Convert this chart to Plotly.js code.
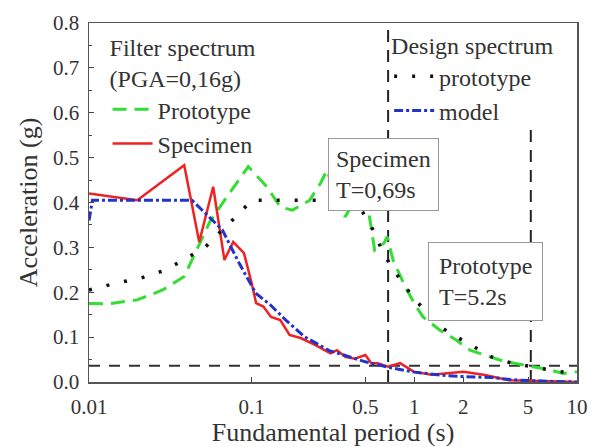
<!DOCTYPE html>
<html>
<head>
<meta charset="utf-8">
<script src="https://cdn.plot.ly/plotly-3.0.1.min.js"></script>
<style>html,body{margin:0;padding:0;background:#fff;}#chart{width:592px;height:447px;}</style>
</head>
<body>
<div id="chart"></div>
<script>
// Filter spectrum - prototype (green dashed)
var protoFilterT = [0.01, 0.013, 0.0198, 0.0284, 0.0385, 0.046, 0.0553, 0.0705, 0.0953, 0.124, 0.15, 0.178, 0.227, 0.265, 0.29, 0.32, 0.376, 0.43, 0.48, 0.53, 0.57, 0.65, 0.68, 0.74, 0.88, 1.0, 1.13, 1.43, 1.8, 2.2, 2.73, 3.35, 4.1, 5.5, 6.8, 8.2, 10];
var protoFilterA = [0.175, 0.174, 0.183, 0.205, 0.235, 0.294, 0.357, 0.413, 0.48, 0.435, 0.39, 0.383, 0.405, 0.443, 0.472, 0.428, 0.368, 0.405, 0.435, 0.368, 0.294, 0.309, 0.324, 0.272, 0.212, 0.175, 0.145, 0.116, 0.094, 0.071, 0.060, 0.049, 0.042, 0.034, 0.027, 0.019, 0.023];

// Filter spectrum - specimen (red solid)
var specFilterT = [0.01, 0.0198, 0.0385, 0.0476, 0.058, 0.068, 0.077, 0.0897, 0.1, 0.1065, 0.118, 0.1315, 0.15, 0.171, 0.2, 0.247, 0.305, 0.335, 0.376, 0.43, 0.5, 0.544, 0.595, 0.69, 0.817, 0.99, 1.27, 2, 2.67, 3.82, 10];
var specFilterA = [0.42, 0.405, 0.483, 0.312, 0.435, 0.272, 0.312, 0.287, 0.22, 0.176, 0.168, 0.145, 0.138, 0.105, 0.098, 0.082, 0.064, 0.071, 0.056, 0.052, 0.06, 0.042, 0.042, 0.034, 0.042, 0.023, 0.016, 0.023, 0.016, 0.004, 0.0];

// Design spectrum - prototype (black dotted)
var protoDesignT = [0.01, 0.0146, 0.021, 0.0293, 0.0397, 0.052, 0.066, 0.082, 0.1, 0.396, 0.48, 0.557, 0.62, 0.72, 0.99, 1.44, 1.81, 2.32, 2.98, 3.97, 5.27, 6.42, 7.85, 10];
var protoDesignA = [0.205, 0.22, 0.232, 0.249, 0.276, 0.301, 0.339, 0.372, 0.405, 0.405, 0.379, 0.339, 0.301, 0.257, 0.187, 0.123, 0.101, 0.079, 0.056, 0.042, 0.034, 0.030, 0.023, 0.02];

// Design spectrum - model (blue dash-dot)
var modelDesignT = [0.01, 0.0105, 0.043, 0.066, 0.084, 0.106, 0.131, 0.162, 0.211, 0.3, 0.5, 0.69, 1, 1.5, 2, 3, 4, 6, 10];
var modelDesignA = [0.36, 0.405, 0.405, 0.339, 0.264, 0.198, 0.171, 0.138, 0.101, 0.07, 0.045, 0.033, 0.022, 0.015, 0.012, 0.01, 0.005, 0.002, 0.0];

// Reference lines
var refLevelT = [0.01, 10];
var refLevelA = [0.036, 0.036];
var specimenPeriod = 0.69;
var prototypePeriod = 5.2;
var specimenLineA = [0, 0.8];
var prototypeLineA = [0, 0.576];

// Ticks
var xTickVals = [0.01, 0.1, 0.5, 1, 2, 5, 10];
var xTickText = ['0.01', '0.1', '0.5', '1', '2', '5', '10'];
var yTickVals = [0, 0.1, 0.2, 0.3, 0.4, 0.5, 0.6, 0.7, 0.8];
var yTickText = ['0.0', '0.1', '0.2', '0.3', '0.4', '0.5', '0.6', '0.7', '0.8'];

var FONT = '"Liberation Serif", "Times New Roman", serif';
var TXT = '#333333';

var traces = [
  {x: refLevelT, y: refLevelA, mode: 'lines', showlegend: false, hoverinfo: 'skip',
   line: {color: '#333', width: 2, dash: '11px,9px'}},
  {x: [specimenPeriod, specimenPeriod], y: specimenLineA, mode: 'lines', showlegend: false, hoverinfo: 'skip',
   line: {color: '#222', width: 2, dash: '12px,8px'}},
  {x: [prototypePeriod, prototypePeriod], y: prototypeLineA, mode: 'lines', showlegend: false, hoverinfo: 'skip',
   line: {color: '#222', width: 2, dash: '12px,8px'}},
  {x: protoFilterT, y: protoFilterA, mode: 'lines', name: 'Prototype', legend: 'legend',
   line: {color: '#33dd33', width: 3, dash: '14px,8px'}},
  {x: specFilterT, y: specFilterA, mode: 'lines', name: 'Specimen', legend: 'legend',
   line: {color: '#ee2222', width: 2.5}},
  {x: protoDesignT, y: protoDesignA, mode: 'lines', name: 'prototype', legend: 'legend2',
   line: {color: '#111', width: 3.5, dash: '3px,15px'}},
  {x: modelDesignT, y: modelDesignA, mode: 'lines', name: 'model', legend: 'legend2',
   line: {color: '#2233cc', width: 3, dash: 'dashdot'}}
];

var layout = {
  width: 592, height: 447,
  margin: {l: 89, r: 15, t: 23, b: 65},
  paper_bgcolor: '#fff', plot_bgcolor: '#fff',
  font: {family: FONT, color: TXT, size: 20},
  xaxis: {
    type: 'log', range: [-2, 1],
    tickvals: xTickVals, ticktext: xTickText,
    ticks: 'inside', ticklen: 5, tickcolor: '#444', tickwidth: 1,
    showline: true, linecolor: '#555', linewidth: 1.5, mirror: true,
    showgrid: false, zeroline: false,
    tickfont: {family: FONT, size: 21, color: TXT},
    ticklabelstandoff: 5,
    title: {text: 'Fundamental period (s)', font: {family: FONT, size: 26, color: TXT}, standoff: 2}
  },
  yaxis: {
    range: [0, 0.8],
    tickvals: yTickVals, ticktext: yTickText,
    ticks: 'inside', ticklen: 5, tickcolor: '#444', tickwidth: 1,
    minor: {dtick: 0.05, ticks: 'inside', ticklen: 3, tickcolor: '#444', showgrid: false},
    showline: true, linecolor: '#555', linewidth: 1.5, mirror: true,
    showgrid: false, zeroline: false,
    tickfont: {family: FONT, size: 21, color: TXT},
    ticklabelstandoff: 4,
    title: {text: 'Acceleration (g)', font: {family: FONT, size: 26, color: TXT}, standoff: 8}
  },
  legend: {
    x: 0.038, y: 0.995, xanchor: 'left', yanchor: 'top',
    bgcolor: 'rgba(0,0,0,0)', borderwidth: 0,
    font: {family: FONT, size: 24, color: TXT},
    title: {text: 'Filter spectrum<br>(PGA=0,16g)', font: {family: FONT, size: 24, color: TXT}, side: 'top'},
    tracegroupgap: 0, itemwidth: 40
  },
  legend2: {
    x: 0.615, y: 1.0, xanchor: 'left', yanchor: 'top',
    bgcolor: 'rgba(0,0,0,0)', borderwidth: 0,
    font: {family: FONT, size: 24, color: TXT},
    title: {text: 'Design spectrum', font: {family: FONT, size: 24, color: TXT}, side: 'top'},
    tracegroupgap: 0, itemwidth: 40
  },
  annotations: [
    {xref: 'paper', yref: 'paper', x: 0.49, y: 0.68, xanchor: 'left', yanchor: 'top',
     text: 'Specimen<br>T=0,69s', align: 'left', showarrow: false,
     font: {family: FONT, size: 24, color: TXT},
     bgcolor: '#fff', bordercolor: '#999', borderwidth: 1, borderpad: 7},
    {xref: 'paper', yref: 'paper', x: 0.695, y: 0.39, xanchor: 'left', yanchor: 'top',
     text: 'Prototype<br>T=5.2s', align: 'left', showarrow: false,
     font: {family: FONT, size: 24, color: TXT},
     bgcolor: '#fff', bordercolor: '#999', borderwidth: 1, borderpad: 10}
  ]
};

Plotly.newPlot('chart', traces, layout, {displayModeBar: false, staticPlot: true});
</script>
</body>
</html>
